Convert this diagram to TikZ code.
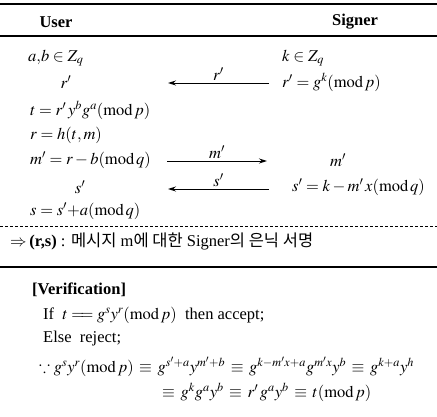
\documentclass[tikz,border=0pt]{standalone}
\usepackage{mathptmx}
\usepackage{amssymb}
\usepackage[no-math]{fontspec}
\setmainfont{Liberation Serif}
\newfontfamily\kor{Noto Sans CJK KR}
\usetikzlibrary{arrows.meta}
\begin{document}
\begin{tikzpicture}[x=1pt,y=-1pt,
  txt/.style={inner sep=0pt, font=\fontsize{16.5}{20}\selectfont},
  hdr/.style={txt, font=\fontsize{16.5}{20}\selectfont\bfseries},
  rule/.style={line width=1.4pt},
  msg/.style={-{Stealth[length=8pt,width=5pt]}, line width=0.9pt},
  lbl/.style={txt, above, inner sep=2pt}]
\useasboundingbox (0,0) rectangle (437,417);
% rules
\coordinate (t1) at (0,4);   \coordinate (t2) at (437,4);
\coordinate (h1) at (0,36);  \coordinate (h2) at (437,36);
\coordinate (d1) at (0,226); \coordinate (d2) at (437,226);
\coordinate (b1) at (0,267); \coordinate (b2) at (437,267);
\draw[rule] (t1) -- (t2);
\draw[rule] (h1) -- (h2);
\draw[line width=0.6pt, dash pattern=on 3pt off 2pt] (d1) -- (d2);
\draw[line width=1.2pt] (b1) -- (b2);
% headers
\node[hdr] (user) at (56,22) {User};
\node[hdr] (signer) at (355,22) {Signer};
% user column
\node[txt, anchor=west] (ab) at (28,58) {$a{,}b\in Z_q$};
\node[txt] (ur) at (66,82) {$r'$};
\node[txt, anchor=west] (ut) at (30,110) {$t=r'\,y^b g^a(\mathrm{mod}\,p)$};
\node[txt, anchor=west] (uh) at (30,135) {$r=h(t,m)$};
\node[txt, anchor=west] (um) at (30,160) {$m'=r-b(\mathrm{mod}\,q)$};
\node[txt] (us) at (80,187) {$s'$};
\node[txt, anchor=west] (uss) at (30,211) {$s=s'{+}a(\mathrm{mod}\,q)$};
% signer column
\node[txt, anchor=west] (sk) at (282,58) {$k\in Z_q$};
\node[txt, anchor=west] (sr) at (282,82) {$r'=g^k(\mathrm{mod}\,p)$};
\node[txt] (sm) at (338,160) {$m'$};
\node[txt, anchor=west] (ss) at (292,187) {$s'=k-m'\,x(\mathrm{mod}\,q)$};
% messages
\coordinate (a1s) at (269,83);  \coordinate (a1e) at (168,83);
\coordinate (a2s) at (167,161); \coordinate (a2e) at (267,161);
\coordinate (a3s) at (269,189); \coordinate (a3e) at (168,189);
\draw[msg] (a1s) -- node[lbl] {$r'$} (a1e);
\draw[msg] (a2s) -- node[lbl] {$m'$} (a2e);
\draw[msg] (a3s) -- node[lbl] {$s'$} (a3e);
% result
\node[txt, anchor=west] (res) at (10,241) {$\Rightarrow$\,\textbf{(r,s)} : {\kor 메시지} m{\kor 에 대한} Signer{\kor 의 은닉 서명}};
% verification
\node[hdr, anchor=west] (ver) at (32,290) {[Verification]};
\node[txt, anchor=west] (vif) at (43,315) {If\ \ $t=\!\!=g^s y^r(\mathrm{mod}\,p)$\ \ then accept;};
\node[txt, anchor=west] (vel) at (43,339) {Else\ \ reject;};
\node[txt, anchor=west] (vp1) at (39,367) {$\because g^s y^r(\mathrm{mod}\,p)\,\equiv\, g^{s'+a}y^{m'+b}\,\equiv\, g^{k-m'x+a}g^{m'x}y^b\,\equiv\, g^{k+a}y^h$};
\node[txt, anchor=west] (vp2) at (162,392) {$\equiv\, g^k g^a y^b\,\equiv\, r'\,g^a y^b\,\equiv\, t(\mathrm{mod}\,p)$};
\end{tikzpicture}
\end{document}
